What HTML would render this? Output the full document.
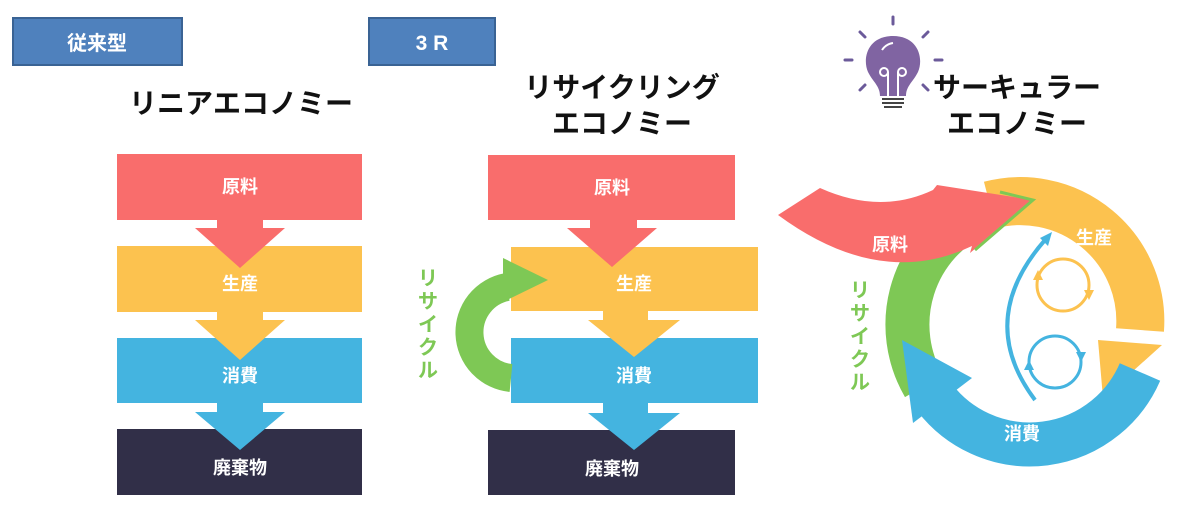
<!DOCTYPE html>
<html><head><meta charset="utf-8"><style>
html,body{margin:0;padding:0;background:#fff;}
svg{display:block;}
text{font-family:"Liberation Sans","Noto Sans CJK JP",sans-serif;}
</style></head><body>
<svg width="1200" height="520" viewBox="0 0 1200 520" xmlns="http://www.w3.org/2000/svg">
<!-- badges -->
<rect x="13" y="18" width="169" height="47" fill="#4f81bd" stroke="#3a6394" stroke-width="2"/>
<text x="97" y="50" font-size="20" font-weight="bold" fill="#fff" text-anchor="middle">従来型</text>
<rect x="369" y="18" width="126" height="47" fill="#4f81bd" stroke="#3a6394" stroke-width="2"/>
<text x="432" y="50" font-size="21" font-weight="bold" fill="#fff" text-anchor="middle">3 R</text>
<!-- titles -->
<g font-size="28" font-weight="bold" fill="#111" text-anchor="middle">
<text x="241" y="113">リニアエコノミー</text>
<text x="622" y="97">リサイクリング</text>
<text x="622" y="133">エコノミー</text>
<text x="1017" y="97">サーキュラー</text>
<text x="1017" y="133">エコノミー</text>
</g>
<!-- lightbulb -->
<g stroke="#6b5a9a" stroke-width="3" stroke-linecap="round">
<line x1="893" y1="17" x2="893" y2="24"/>
<line x1="860" y1="32" x2="865" y2="37"/>
<line x1="928" y1="32" x2="923" y2="37"/>
<line x1="845" y1="60" x2="852" y2="60"/>
<line x1="935" y1="60" x2="942" y2="60"/>
<line x1="860" y1="90" x2="865" y2="85"/>
<line x1="928" y1="90" x2="923" y2="85"/>
</g>
<path d="M893,36 C868,36 862,58 868,72 C873,82 880,86 880,96 L906,96 C906,86 913,82 918,72 C924,58 918,36 893,36 Z" fill="#8064a2"/>
<path d="M882,50 Q886,44 893,43" stroke="#fff" stroke-width="2" fill="none"/>
<path d="M888,96 L888,72 M898,96 L898,72 M888,72 a4,4 0 1 1 -8,0 a4,4 0 0 1 8,0 M898,72 a4,4 0 1 0 8,0 a4,4 0 0 0 -8,0" stroke="#fff" stroke-width="2" fill="none"/>
<g stroke="#444" stroke-width="2"><line x1="882" y1="99" x2="904" y2="99"/><line x1="882" y1="103" x2="904" y2="103"/><line x1="884" y1="107" x2="902" y2="107"/></g>

<!-- column 1 -->
<rect x="117" y="154" width="245" height="66" fill="#f96d6c"/>
<rect x="117" y="246" width="245" height="66" fill="#fcc24f"/>
<rect x="117" y="338" width="245" height="65" fill="#44b4e0"/>
<rect x="117" y="429" width="245" height="66" fill="#312f48"/>
<polygon points="217,219 263,219 263,228 285,228 240,268 195,228 217,228" fill="#f96d6c"/>
<polygon points="217,311 263,311 263,320 285,320 240,360 195,320 217,320" fill="#fcc24f"/>
<polygon points="217,402 263,402 263,412 285,412 240,450 195,412 217,412" fill="#44b4e0"/>
<g font-size="18" font-weight="bold" fill="#fff" text-anchor="middle">
<text x="240" y="193">原料</text><text x="240" y="290">生産</text><text x="240" y="382">消費</text><text x="240" y="474">廃棄物</text>
</g>

<!-- column 2 -->
<rect x="488" y="155" width="247" height="65" fill="#f96d6c"/>
<rect x="511" y="247" width="247" height="64" fill="#fcc24f"/>
<rect x="511" y="338" width="247" height="65" fill="#44b4e0"/>
<rect x="488" y="430" width="247" height="65" fill="#312f48"/>
<polygon points="590,219 637,219 637,228 657,228 612,267 567,228 590,228" fill="#f96d6c"/>
<polygon points="603,310 648,310 648,320 680,320 634,357 588,320 603,320" fill="#fcc24f"/>
<polygon points="603,402 648,402 648,413 680,413 634,450 588,413 603,413" fill="#44b4e0"/>
<path d="M511,378 A46,46 0 0 1 507,287" stroke="#7ec855" stroke-width="28" fill="none"/>
<polygon points="503,258 548,280 503,302" fill="#7ec855"/>
<g font-size="18" font-weight="bold" fill="#fff" text-anchor="middle">
<text x="612" y="194">原料</text><text x="634" y="290">生産</text><text x="634" y="382">消費</text><text x="612" y="475">廃棄物</text>
</g>
<g font-size="20" font-weight="bold" fill="#7ec855" text-anchor="middle">
<text x="428" y="285">リ</text><text x="428" y="308">サ</text><text x="428" y="331">イ</text><text x="428" y="354">ク</text><text x="428" y="377">ル</text>
</g>

<!-- column 3 circular -->
<!-- green -->
<path d="M924,386 A122,122 0 0 1 978,214" stroke="#7ec855" stroke-width="44" fill="none"/>
<!-- yellow -->
<path d="M990,205 A120,120 0 0 1 1140,330" stroke="#fcc24f" stroke-width="48" fill="none"/>
<polygon points="1098,340 1162,345 1103,398" fill="#fcc24f"/>
<!-- blue -->
<path d="M1140,372 A120,120 0 0 1 935,398" stroke="#44b4e0" stroke-width="44" fill="none"/>
<polygon points="902,340 972,378 913,423" fill="#44b4e0"/>
<!-- red -->
<path d="M778,215 L820,188 Q880,215 933,190 L937,185 L1033,200 L970,253 L972,246 Q880,290 778,215 Z" fill="#f96d6c"/>
<path d="M1000,192 L1033,200 L975,250" stroke="#7ec855" stroke-width="3" fill="none"/>
<!-- inner arrows -->
<path d="M1035,400 Q975,320 1045,240" stroke="#44b4e0" stroke-width="4" fill="none"/>
<polygon points="1052,232 1040,238 1048,246" fill="#44b4e0"/>
<circle cx="1063" cy="285" r="26" stroke="#fcc24f" stroke-width="3" fill="none"/>
<polygon points="1033,280 1043,280 1038,270" fill="#fcc24f"/>
<polygon points="1084,290 1094,290 1089,300" fill="#fcc24f"/>
<circle cx="1055" cy="362" r="26" stroke="#44b4e0" stroke-width="3" fill="none"/>
<polygon points="1076,352 1086,352 1081,362" fill="#44b4e0"/>
<polygon points="1024,370 1034,370 1029,360" fill="#44b4e0"/>
<g font-size="18" font-weight="bold" fill="#fff" text-anchor="middle">
<text x="890" y="251">原料</text><text x="1094" y="244">生産</text><text x="1022" y="440">消費</text>
</g>
<g font-size="20" font-weight="bold" fill="#7ec855" text-anchor="middle">
<text x="860" y="297">リ</text><text x="860" y="320">サ</text><text x="860" y="343">イ</text><text x="860" y="366">ク</text><text x="860" y="389">ル</text>
</g>
</svg>
</body></html>
